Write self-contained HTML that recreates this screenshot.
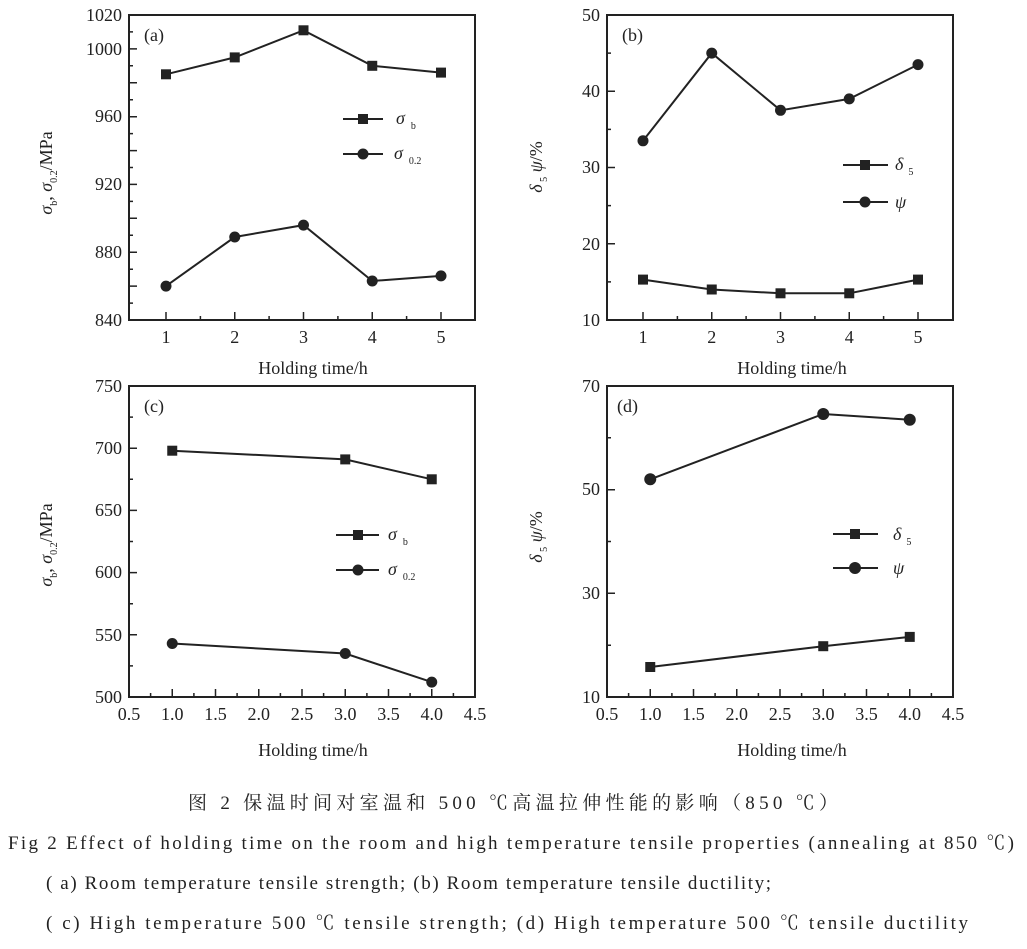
<!DOCTYPE html>
<html><head><meta charset="utf-8"><style>
body{margin:0;background:#fff;width:1027px;height:949px;overflow:hidden}
svg{position:absolute;left:0;top:0}
text{font-family:"Liberation Serif","Noto Serif CJK SC",serif;fill:#222}
.t{font-size:18px}
.cap{font-size:19px}
</style></head><body>
<svg width="1027" height="949" viewBox="0 0 1027 949">
<g stroke="#222" stroke-width="2" fill="none">
<rect x="129" y="15" width="346" height="305"/>
<rect x="607" y="15" width="346" height="305"/>
<rect x="129" y="386" width="346" height="311"/>
<rect x="607" y="386" width="346" height="311"/>
</g>
<g stroke="#222" stroke-width="1.5">
<path d="M129 15h8M129 31.9h4M129 48.9h8M129 65.8h4M129 82.8h8M129 99.7h4M129 116.7h8M129 133.6h4M129 150.6h8M129 167.5h4M129 184.4h8M129 201.4h4M129 218.3h8M129 235.3h4M129 252.2h8M129 269.2h4M129 286.1h8M129 303.1h4"/>
<path d="M166 320v-8M200.4 320v-4M234.75 320v-8M269.1 320v-4M303.5 320v-8M337.9 320v-4M372.25 320v-8M406.6 320v-4M441 320v-8"/>
<path d="M607 15h8M607 53.1h4M607 91.25h8M607 129.4h4M607 167.5h8M607 205.6h4M607 243.75h8M607 281.9h4"/>
<path d="M643 320v-8M677.4 320v-4M711.75 320v-8M746.1 320v-4M780.5 320v-8M814.9 320v-4M849.25 320v-8M883.6 320v-4M918 320v-8"/>
<path d="M129 386h8M129 417.1h4M129 448.2h8M129 479.3h4M129 510.4h8M129 541.5h4M129 572.6h8M129 603.7h4M129 634.8h8M129 665.9h4"/>
<path d="M150.6 697v-4M172.25 697v-8M193.9 697v-4M215.5 697v-8M237.1 697v-4M258.75 697v-8M280.4 697v-4M302 697v-8M323.6 697v-4M345.25 697v-8M366.9 697v-4M388.5 697v-8M410.1 697v-4M431.75 697v-8M453.4 697v-4"/>
<path d="M607 437.8h4M607 489.7h8M607 541.5h4M607 593.3h8M607 645.2h4"/>
<path d="M628.6 697v-4M650.25 697v-8M671.9 697v-4M693.5 697v-8M715.1 697v-4M736.75 697v-8M758.4 697v-4M780 697v-8M801.6 697v-4M823.25 697v-8M844.9 697v-4M866.5 697v-8M888.1 697v-4M909.75 697v-8M931.4 697v-4"/>
</g>
<g stroke="#222" stroke-width="2" fill="none">
<polyline points="166,74.3 234.75,57.4 303.5,30.3 372.25,65.8 441,72.6"/>
<polyline points="166,286.1 234.75,237 303.5,225.1 372.25,281 441,275.9"/>
<polyline points="643,279.6 711.75,289.5 780.5,293.3 849.25,293.3 918,279.6"/>
<polyline points="643,140.8 711.75,53.1 780.5,110.3 849.25,98.9 918,64.6"/>
<polyline points="172.25,450.7 345.25,459.4 431.75,479.3"/>
<polyline points="172.25,643.5 345.25,653.5 431.75,682.1"/>
<polyline points="650.25,479.3 823.25,414 909.75,419.7"/>
<polyline points="650.25,667 823.25,646.2 909.75,636.9"/>
<path d="M343 119h40M343 154h40M843 165h45M843 202h45M336 535h43M336 570h43M833 534h45M833 568h45"/>
</g>
<g fill="#222">
<rect x="161" y="69.3" width="10" height="10"/><rect x="229.75" y="52.4" width="10" height="10"/><rect x="298.5" y="25.3" width="10" height="10"/><rect x="367.25" y="60.8" width="10" height="10"/><rect x="436" y="67.6" width="10" height="10"/>
<circle cx="166" cy="286.1" r="5.5"/><circle cx="234.75" cy="237" r="5.5"/><circle cx="303.5" cy="225.1" r="5.5"/><circle cx="372.25" cy="281" r="5.5"/><circle cx="441" cy="275.9" r="5.5"/>
<rect x="638" y="274.6" width="10" height="10"/><rect x="706.75" y="284.5" width="10" height="10"/><rect x="775.5" y="288.3" width="10" height="10"/><rect x="844.25" y="288.3" width="10" height="10"/><rect x="913" y="274.6" width="10" height="10"/>
<circle cx="643" cy="140.8" r="5.5"/><circle cx="711.75" cy="53.1" r="5.5"/><circle cx="780.5" cy="110.3" r="5.5"/><circle cx="849.25" cy="98.9" r="5.5"/><circle cx="918" cy="64.6" r="5.5"/>
<rect x="167.25" y="445.7" width="10" height="10"/><rect x="340.25" y="454.4" width="10" height="10"/><rect x="426.75" y="474.3" width="10" height="10"/>
<circle cx="172.25" cy="643.5" r="5.5"/><circle cx="345.25" cy="653.5" r="5.5"/><circle cx="431.75" cy="682.1" r="5.5"/>
<circle cx="650.25" cy="479.3" r="6"/><circle cx="823.25" cy="414" r="6"/><circle cx="909.75" cy="419.7" r="6"/>
<rect x="645.25" y="662" width="10" height="10"/><rect x="818.25" y="641.2" width="10" height="10"/><rect x="904.75" y="631.9" width="10" height="10"/>
<rect x="358" y="114" width="10" height="10"/><circle cx="363" cy="154" r="5.5"/>
<rect x="860" y="160" width="10" height="10"/><circle cx="865" cy="202" r="5.5"/>
<rect x="353" y="530" width="10" height="10"/><circle cx="358" cy="570" r="5.5"/>
<rect x="850" y="529" width="10" height="10"/><circle cx="855" cy="568" r="6"/>
</g>
<g class="t" text-anchor="end">
<text x="122" y="21">1020</text><text x="122" y="55">1000</text><text x="122" y="122">960</text><text x="122" y="190">920</text><text x="122" y="258">880</text><text x="122" y="326">840</text>
<text x="600" y="21">50</text><text x="600" y="97">40</text><text x="600" y="173">30</text><text x="600" y="250">20</text><text x="600" y="326">10</text>
<text x="122" y="392">750</text><text x="122" y="454">700</text><text x="122" y="516">650</text><text x="122" y="578">600</text><text x="122" y="641">550</text><text x="122" y="703">500</text>
<text x="600" y="392">70</text><text x="600" y="495">50</text><text x="600" y="599">30</text><text x="600" y="703">10</text>
</g>
<g class="t" text-anchor="middle">
<text x="166" y="343">1</text><text x="234.75" y="343">2</text><text x="303.5" y="343">3</text><text x="372.25" y="343">4</text><text x="441" y="343">5</text>
<text x="643" y="343">1</text><text x="711.75" y="343">2</text><text x="780.5" y="343">3</text><text x="849.25" y="343">4</text><text x="918" y="343">5</text>
<text x="129" y="720">0.5</text><text x="172.25" y="720">1.0</text><text x="215.5" y="720">1.5</text><text x="258.75" y="720">2.0</text><text x="302" y="720">2.5</text><text x="345.25" y="720">3.0</text><text x="388.5" y="720">3.5</text><text x="431.75" y="720">4.0</text><text x="475" y="720">4.5</text>
<text x="607" y="720">0.5</text><text x="650.25" y="720">1.0</text><text x="693.5" y="720">1.5</text><text x="736.75" y="720">2.0</text><text x="780" y="720">2.5</text><text x="823.25" y="720">3.0</text><text x="866.5" y="720">3.5</text><text x="909.75" y="720">4.0</text><text x="953" y="720">4.5</text>
<text x="313" y="374">Holding time/h</text><text x="792" y="374">Holding time/h</text>
<text x="313" y="756">Holding time/h</text><text x="792" y="756">Holding time/h</text>
</g>
<g class="t">
<text x="144" y="41">(a)</text><text x="622" y="41">(b)</text><text x="144" y="412">(c)</text><text x="617" y="412">(d)</text>
<text x="396" y="124" font-style="italic">σ<tspan font-size="10" dx="6" dy="5" font-style="normal">b</tspan></text>
<text x="394" y="159" font-style="italic">σ<tspan font-size="10" dx="6" dy="5" font-style="normal">0.2</tspan></text>
<text x="895" y="170" font-style="italic">δ<tspan font-size="10" dx="5" dy="5" font-style="normal">5</tspan></text>
<text x="895" y="208" font-style="italic">ψ</text>
<text x="388" y="540" font-style="italic">σ<tspan font-size="10" dx="6" dy="5" font-style="normal">b</tspan></text>
<text x="388" y="575" font-style="italic">σ<tspan font-size="10" dx="6" dy="5" font-style="normal">0.2</tspan></text>
<text x="893" y="540" font-style="italic">δ<tspan font-size="10" dx="5" dy="5" font-style="normal">5</tspan></text>
<text x="893" y="574" font-style="italic">ψ</text>
</g>
<g class="t">
<text transform="translate(52,173) rotate(-90)" text-anchor="middle"><tspan font-style="italic">σ</tspan><tspan font-size="10" dy="5">b</tspan><tspan dy="-5">, </tspan><tspan font-style="italic">σ</tspan><tspan font-size="10" dy="5">0.2</tspan><tspan dy="-5">/MPa</tspan></text>
<text transform="translate(52,545) rotate(-90)" text-anchor="middle"><tspan font-style="italic">σ</tspan><tspan font-size="10" dy="5">b</tspan><tspan dy="-5">, </tspan><tspan font-style="italic">σ</tspan><tspan font-size="10" dy="5">0.2</tspan><tspan dy="-5">/MPa</tspan></text>
<text transform="translate(542,167) rotate(-90)" text-anchor="middle"><tspan font-style="italic">δ</tspan><tspan font-size="10" dy="5"> 5</tspan><tspan dy="-5"> </tspan><tspan font-style="italic">ψ</tspan><tspan>/%</tspan></text>
<text transform="translate(542,537) rotate(-90)" text-anchor="middle"><tspan font-style="italic">δ</tspan><tspan font-size="10" dy="5"> 5</tspan><tspan dy="-5"> </tspan><tspan font-style="italic">ψ</tspan><tspan>/%</tspan></text>
</g>
<g class="cap">
<text x="188" y="809" textLength="650" lengthAdjust="spacing">图 2  保温时间对室温和 500 ℃高温拉伸性能的影响（850 ℃）</text>
<text x="8" y="849" textLength="1006" lengthAdjust="spacing">Fig 2   Effect of holding time on the room and high temperature tensile properties (annealing at 850 ℃)</text>
<text x="46" y="889" textLength="725" lengthAdjust="spacing">( a) Room temperature tensile strength;  (b) Room temperature tensile ductility;</text>
<text x="46" y="929" textLength="922" lengthAdjust="spacing">( c) High temperature 500 ℃ tensile strength;  (d) High temperature 500 ℃ tensile ductility</text>
</g>
</svg>
</body></html>
